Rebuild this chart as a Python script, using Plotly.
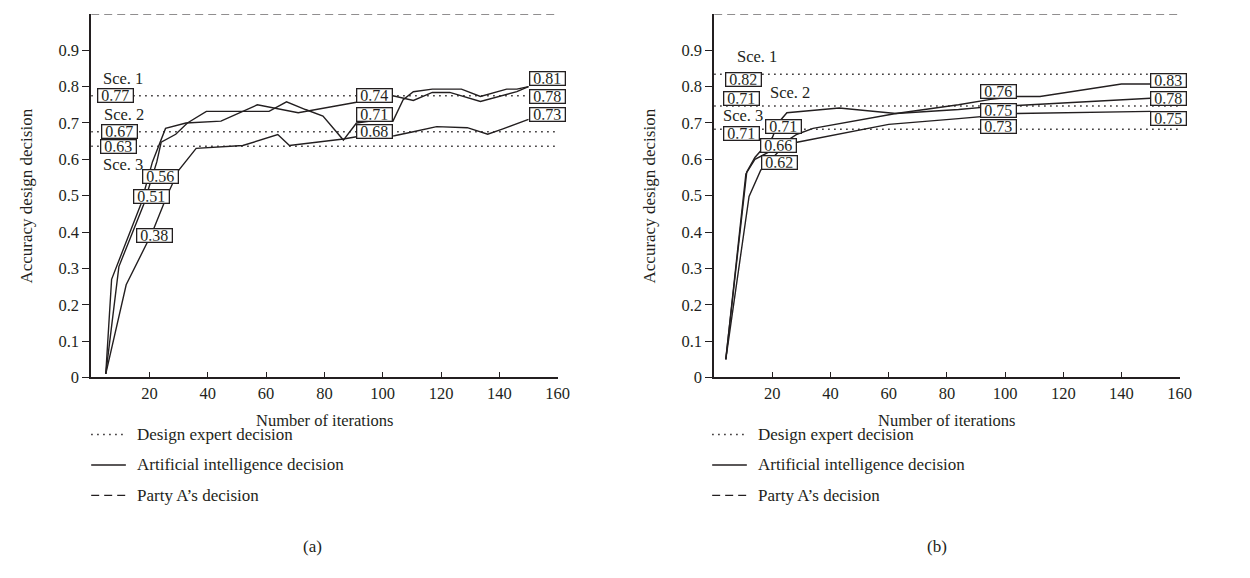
import plotly.graph_objects as go

# ---------------- data: panel (a) ----------------
a_ai1_x = [5, 7, 17, 21, 25.5, 32.5, 44.5, 57, 71, 80, 91, 100, 103.5, 110.5, 117, 123, 133.5, 146, 150]
a_ai1_y = [0.01, 0.27, 0.476, 0.593, 0.685, 0.70, 0.705, 0.75, 0.728, 0.742, 0.757, 0.77, 0.775, 0.762, 0.784, 0.784, 0.759, 0.786, 0.80]
a_ai2_x = [5, 9.5, 18, 22.5, 24, 29, 33, 39.5, 61, 67, 73.5, 79.5, 86.5, 91, 100, 103.5, 107, 110.5, 117, 127, 133.5, 142.5, 146, 150]
a_ai2_y = [0.01, 0.305, 0.476, 0.593, 0.647, 0.669, 0.70, 0.732, 0.732, 0.758, 0.737, 0.719, 0.653, 0.70, 0.71, 0.705, 0.764, 0.786, 0.793, 0.793, 0.773, 0.793, 0.793, 0.80]
a_ai3_x = [5, 12, 21, 26, 30, 36, 52, 64, 68, 80, 86.5, 91, 100, 104, 110.5, 118.5, 129, 136, 141, 148, 150]
a_ai3_y = [0.01, 0.255, 0.40, 0.50, 0.57, 0.63, 0.638, 0.668, 0.638, 0.649, 0.656, 0.662, 0.665, 0.665, 0.676, 0.69, 0.687, 0.669, 0.683, 0.703, 0.71]
a_expert = [0.775, 0.676, 0.636]
party_a = 1.0

# ---------------- data: panel (b) ----------------
b_ai1_x = [4, 10.9, 14, 20, 28.5, 34, 62.5, 84, 95, 104, 112, 140, 150]
b_ai1_y = [0.05, 0.56, 0.60, 0.625, 0.669, 0.685, 0.726, 0.75, 0.765, 0.773, 0.773, 0.807, 0.807]
b_ai2_x = [4, 11.2, 14, 20, 22, 25, 43, 62.5, 84, 95, 104, 150]
b_ai2_y = [0.05, 0.565, 0.605, 0.66, 0.70, 0.728, 0.741, 0.726, 0.737, 0.745, 0.748, 0.768]
b_ai3_x = [4, 12, 16, 22, 28.5, 60, 84, 95, 104, 150]
b_ai3_y = [0.05, 0.498, 0.57, 0.62, 0.647, 0.696, 0.712, 0.72, 0.726, 0.732]
b_expert = [0.834, 0.747, 0.683]

# ---------------- labels ----------------
x_tickvals = [20, 40, 60, 80, 100, 120, 140, 160]
y_tickvals = [0, 0.1, 0.2, 0.3, 0.4, 0.5, 0.6, 0.7, 0.8, 0.9]
y_ticktext = ["0", "0.1", "0.2", "0.3", "0.4", "0.5", "0.6", "0.7", "0.8", "0.9"]
sce_names = ["Sce. 1", "Sce. 2", "Sce. 3"]

# boxed value labels: (text, x, y)
a_boxes = [("0.77", 8.5, 0.775), ("0.67", 9.7, 0.676), ("0.63", 9.2, 0.636),
           ("0.56", 23.6, 0.552), ("0.51", 20.7, 0.497), ("0.38", 21.6, 0.39),
           ("0.74", 97.1, 0.776), ("0.71", 97.1, 0.724), ("0.68", 97.1, 0.676),
           ("0.81", 156.4, 0.821), ("0.78", 156.4, 0.774), ("0.73", 156.4, 0.724)]
a_left_sce = [(11.0, 0.822), (11.2, 0.723), (10.9, 0.586)]
a_right_sce = [(164.1, 0.82), (164.1, 0.774), (164.1, 0.724)]

b_boxes = [("0.82", 10.1, 0.82), ("0.71", 9.4, 0.767), ("0.71", 9.4, 0.672),
           ("0.71", 23.7, 0.69), ("0.66", 22.0, 0.639), ("0.62", 22.6, 0.59),
           ("0.76", 97.8, 0.786), ("0.75", 97.8, 0.735), ("0.73", 97.8, 0.69),
           ("0.83", 156.3, 0.818), ("0.78", 156.3, 0.768), ("0.75", 156.3, 0.711)]
b_left_sce = [(14.6, 0.883), (25.9, 0.784), (10.0, 0.721)]
b_right_sce = [(164.8, 0.83), (164.8, 0.778), (164.8, 0.721)]

legend_names = ["Design expert decision", "Artificial intelligence decision", "Party A\u2019s decision"]

# ---------------- style ----------------
W, H = 1250, 578
FONT = "Liberation Serif"
INK = "#231f20"
DOT = "1.5px,4.5px"
DASH = "8px,5px"


def px(xp):
    return xp / W


def py(yp):
    return 1 - yp / H


fig = go.Figure()

panels = [
    ("x", "y", [(a_ai1_x, a_ai1_y), (a_ai2_x, a_ai2_y), (a_ai3_x, a_ai3_y)], a_expert),
    ("x2", "y2", [(b_ai1_x, b_ai1_y), (b_ai2_x, b_ai2_y), (b_ai3_x, b_ai3_y)], b_expert),
]

for xa, ya, ai, expert in panels:
    for v in expert:
        fig.add_trace(go.Scatter(x=[0, 160], y=[v, v], mode="lines", xaxis=xa, yaxis=ya,
                                 line=dict(color=INK, width=1.5, dash=DOT), showlegend=False,
                                 cliponaxis=False, hoverinfo="skip"))
    fig.add_trace(go.Scatter(x=[0, 160], y=[party_a, party_a], mode="lines", xaxis=xa, yaxis=ya,
                             line=dict(color=INK, width=1.4, dash=DASH), showlegend=False,
                             cliponaxis=False, hoverinfo="skip"))
    for xs, ys in ai:
        fig.add_trace(go.Scatter(x=xs, y=ys, mode="lines", xaxis=xa, yaxis=ya,
                                 line=dict(color=INK, width=1.4), showlegend=False,
                                 cliponaxis=False))

axis_common = dict(range=[0, 160], tickvals=x_tickvals, ticks="inside", ticklen=6, tickwidth=1.4,
                   tickcolor=INK, showline=True, linecolor=INK, linewidth=1.6, showgrid=False,
                   zeroline=False, tickfont=dict(family=FONT, size=16.5, color=INK), fixedrange=True)
yaxis_common = dict(range=[0, 1.0], tickvals=y_tickvals, ticktext=y_ticktext, ticks="outside",
                    ticklen=7, tickwidth=1.4, tickcolor=INK, showline=True, linecolor=INK,
                    linewidth=1.6, showgrid=False, zeroline=False,
                    tickfont=dict(family=FONT, size=16.5, color=INK), fixedrange=True)

ydom = [py(376), py(6)]
fig.update_layout(
    width=W, height=H, margin=dict(l=0, r=0, t=0, b=0),
    paper_bgcolor="white", plot_bgcolor="white", showlegend=False,
    xaxis=dict(domain=[px(84), px(555)], anchor="y", **axis_common),
    yaxis=dict(domain=ydom, anchor="x", **yaxis_common),
    xaxis2=dict(domain=[px(713), px(1183)], anchor="y2", **axis_common),
    yaxis2=dict(domain=ydom, anchor="x2", **yaxis_common),
)

ann = []
shapes = []


def box_labels(boxes, xr, yr):
    for t, x, y in boxes:
        ann.append(dict(text=t, x=x, y=y, xref=xr, yref=yr, showarrow=False,
                        font=dict(family=FONT, size=16, color=INK), bgcolor="white",
                        bordercolor=INK, borderwidth=1.3, borderpad=0.5, width=33, height=11,
                        xanchor="center", yanchor="middle"))


def sce_labels(pos, xr, yr, anchor):
    for name, (x, y) in zip(sce_names, pos):
        ann.append(dict(text=name, x=x, y=y, xref=xr, yref=yr, showarrow=False,
                        font=dict(family=FONT, size=16.5, color=INK), xanchor=anchor,
                        yanchor="middle"))


box_labels(a_boxes, "x", "y")
box_labels(b_boxes, "x2", "y2")
sce_labels(a_left_sce, "x", "y", "center")
sce_labels(a_right_sce, "x", "y", "left")
sce_labels(b_left_sce, "x2", "y2", "center")
sce_labels(b_right_sce, "x2", "y2", "left")

# axis titles, legends, panel captions
for x0, x1, ylab_x, cap, cap_x, leg_x0 in [(84, 555, 19, "(a)", 307, 84), (713, 1183, 648, "(b)", 938, 711)]:
    ann.append(dict(text="Number of iterations", x=px((x0 + x1) / 2), y=py(420), xref="paper",
                    yref="paper", showarrow=False, font=dict(family=FONT, size=16.5, color=INK),
                    xanchor="center", yanchor="middle"))
    ann.append(dict(text="Accuracy design decision", x=px(ylab_x), y=py(191), xref="paper",
                    yref="paper", showarrow=False, textangle=-90,
                    font=dict(family=FONT, size=17, color=INK), xanchor="center", yanchor="middle"))
    ann.append(dict(text=cap, x=px(cap_x), y=py(548), xref="paper", yref="paper", showarrow=False,
                    font=dict(family=FONT, size=17, color=INK), xanchor="center", yanchor="middle"))
    for name, row_y, dash in zip(legend_names, [434, 465, 496], [DOT, "solid", DASH]):
        shapes.append(dict(type="line", xref="paper", yref="paper", x0=px(leg_x0), x1=px(leg_x0 + 35),
                           y0=py(row_y), y1=py(row_y), line=dict(color=INK, width=1.4, dash=dash)))
        ann.append(dict(text=name, x=px(leg_x0 + 44), y=py(row_y), xref="paper", yref="paper",
                        showarrow=False, font=dict(family=FONT, size=17, color=INK),
                        xanchor="left", yanchor="middle"))

fig.update_layout(annotations=ann, shapes=shapes)
fig.write_html("out.html")
